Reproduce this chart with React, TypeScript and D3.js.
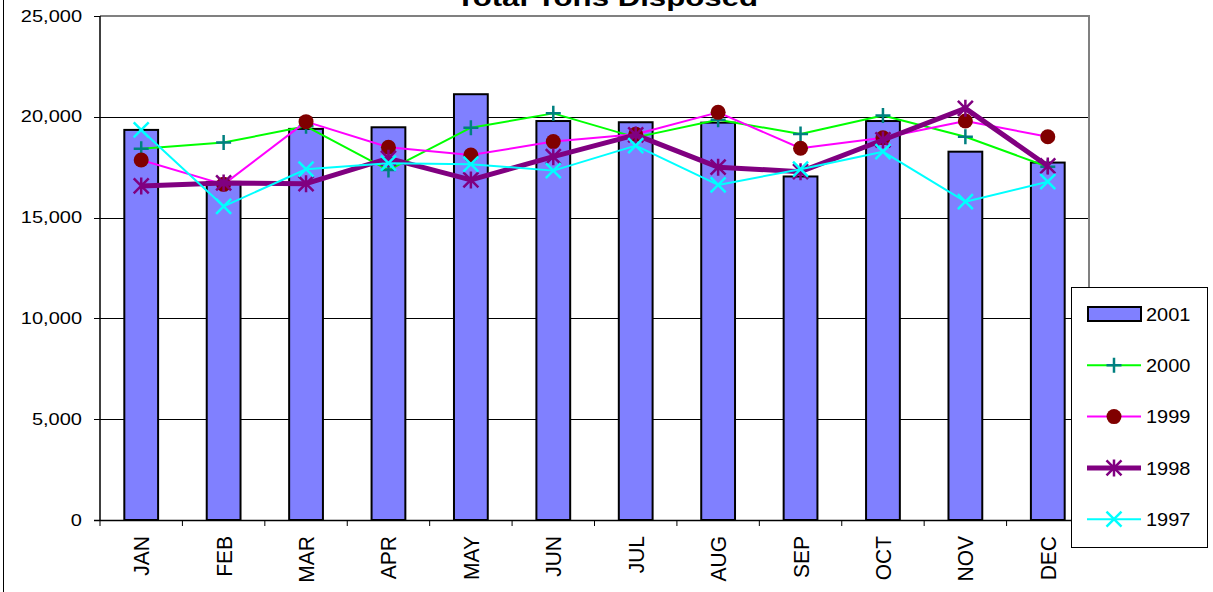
import React from 'react';
import * as d3 from 'd3';

const months = ['JAN', 'FEB', 'MAR', 'APR', 'MAY', 'JUN', 'JUL', 'AUG', 'SEP', 'OCT', 'NOV', 'DEC'];
const yTicks = [0, 5000, 10000, 15000, 20000, 25000];

const tons2001 = [19350, 16770, 19400, 19480, 21120, 19790, 19730, 19710, 17040, 19790, 18270, 17730];
const tons2000 = [18420, 18720, 19530, 17360, 19460, 20170, 18980, 19850, 19150, 20060, 19010, 17520];
const tons1999 = [17860, 16650, 19760, 18490, 18100, 18770, 19130, 20220, 18440, 18960, 19790, 19010];
const tons1998 = [16570, 16720, 16680, 17940, 16870, 18020, 19100, 17500, 17280, 18850, 20420, 17560];
const tons1997 = [19350, 15560, 17400, 17700, 17650, 17330, 18570, 16620, 17400, 18270, 15790, 16780];

type Marker = 'plus' | 'dot' | 'star' | 'x';

interface LineSeries {
  name: string;
  values: number[];
  line: string;
  width: number;
  marker: Marker;
  markerColor: string;
}

const lineSeries: LineSeries[] = [
  { name: '2000', values: tons2000, line: '#00ff00', width: 2, marker: 'plus', markerColor: '#008080' },
  { name: '1999', values: tons1999, line: '#ff00ff', width: 2, marker: 'dot', markerColor: '#800000' },
  { name: '1998', values: tons1998, line: '#800080', width: 5, marker: 'star', markerColor: '#800080' },
  { name: '1997', values: tons1997, line: '#00ffff', width: 2, marker: 'x', markerColor: '#00ffff' },
];

const FONT = "Arial, 'Liberation Sans', sans-serif";

// draws one marker glyph centred on (x, y)
const MarkerGlyph: React.FC<{ kind: Marker; x: number; y: number; color: string }> = ({ kind, x, y, color }) => {
  if (kind === 'dot') return <circle cx={x} cy={y} r={7.5} fill={color} />;
  const s = 7.5;
  if (kind === 'plus') {
    return (
      <path d={`M${x - s},${y}H${x + s}M${x},${y - s}V${y + s}`} stroke={color} strokeWidth={2.5} fill="none" />
    );
  }
  if (kind === 'x') {
    return (
      <path d={`M${x - s},${y - s}L${x + s},${y + s}M${x - s},${y + s}L${x + s},${y - s}`} stroke={color} strokeWidth={2.5} fill="none" />
    );
  }
  return (
    <path
      d={`M${x - s},${y - s}L${x + s},${y + s}M${x - s},${y + s}L${x + s},${y - s}M${x},${y - s - 1}V${y + s + 1}`}
      stroke={color}
      strokeWidth={2.5}
      fill="none"
    />
  );
};

const App: React.FC = () => {
  const width = 1213;
  const height = 592;
  const left = 100;
  const right = 1089;
  const top = 16;
  const bottom = 520;

  const x = d3.scaleBand<string>().domain(months).range([left, right]).paddingInner(0.59).paddingOuter(0.295);
  const y = d3.scaleLinear().domain([0, 25000]).range([bottom, top]);
  const step = (right - left) / months.length;
  const cx = (m: string) => (x(m) || 0) + x.bandwidth() / 2;

  const lineGen = d3.line<number>()
    .x((_, i) => cx(months[i]))
    .y((d) => y(d));

  const legendX = 1071;
  const legendY = 287;
  const legendRows = ['2001', ...lineSeries.map((s) => s.name)];
  const rowY = (i: number) => 314 + i * 51.3;

  return (
    <svg width={width} height={height} style={{ position: 'absolute', left: 0, top: 0, background: '#fff' }} fontFamily={FONT}>
      {/* outer chart frame edge */}
      <line x1={3.5} x2={3.5} y1={0} y2={height} stroke="#000" strokeWidth={1} />

      <text
        transform={`translate(607,6) scale(1.3,1)`}
        textAnchor="middle"
        fontSize={24}
        fontWeight="bold"
        fill="#000"
      >
        Total Tons Disposed
      </text>

      {/* gridlines */}
      {yTicks.filter((t) => t > 0 && t < 25000).map((t) => (
        <line key={t} x1={left} x2={right} y1={Math.round(y(t)) + 0.5} y2={Math.round(y(t)) + 0.5} stroke="#000" strokeWidth={1} />
      ))}

      {/* plot area border (top/right) */}
      <path d={`M${left},${top}H${right}V${bottom}`} stroke="#808080" strokeWidth={2} fill="none" />

      {/* bars */}
      {months.map((m, i) => (
        <rect
          key={m}
          x={x(m)}
          y={y(tons2001[i])}
          width={x.bandwidth()}
          height={bottom - y(tons2001[i])}
          fill="#8080ff"
          stroke="#000"
          strokeWidth={2}
        />
      ))}

      {/* axes */}
      <line x1={left} x2={left} y1={top} y2={bottom} stroke="#000" strokeWidth={1.5} />
      <line x1={left - 6} x2={right} y1={bottom + 0.5} y2={bottom + 0.5} stroke="#000" strokeWidth={1.5} />
      {yTicks.map((t) => (
        <g key={t}>
          <line x1={left - 6} x2={left} y1={Math.round(y(t)) + 0.5} y2={Math.round(y(t)) + 0.5} stroke="#000" strokeWidth={1} />
          <text
            transform={`translate(82,${y(t)}) scale(1.25,1)`}
            textAnchor="end"
            dy="0.35em"
            fontSize={16}
            fill="#000"
          >
            {d3.format(',')(t)}
          </text>
        </g>
      ))}
      {d3.range(months.length + 1).map((i) => (
        <line key={i} x1={left + i * step} x2={left + i * step} y1={bottom} y2={bottom + 6} stroke="#000" strokeWidth={1} />
      ))}
      {months.map((m) => (
        <text
          key={m}
          transform={`translate(${cx(m)},536) scale(1.06,1) rotate(-90)`}
          textAnchor="end"
          dy="0.36em"
          fontSize={21}
          fill="#000"
        >
          {m}
        </text>
      ))}

      {/* line series */}
      {lineSeries.map((s) => (
        <g key={s.name}>
          <path d={lineGen(s.values) || undefined} stroke={s.line} strokeWidth={s.width} fill="none" strokeLinejoin="round" />
          {s.values.map((v, i) => (
            <MarkerGlyph key={i} kind={s.marker} x={cx(months[i])} y={y(v)} color={s.markerColor} />
          ))}
        </g>
      ))}

      {/* legend */}
      <rect x={legendX + 0.5} y={legendY + 0.5} width={136} height={260} fill="#fff" stroke="#000" strokeWidth={1} />
      {legendRows.map((name, i) => {
        const ly = rowY(i);
        const s = lineSeries.find((d) => d.name === name);
        return (
          <g key={name}>
            {s ? (
              <>
                <line x1={1087} x2={1141} y1={ly} y2={ly} stroke={s.line} strokeWidth={s.width} />
                <MarkerGlyph kind={s.marker} x={1114} y={ly} color={s.markerColor} />
              </>
            ) : (
              <rect x={1088} y={ly - 7} width={53} height={14} fill="#8080ff" stroke="#000" strokeWidth={2} />
            )}
            <text transform={`translate(1146,${ly}) scale(1.05,1)`} dy="0.36em" fontSize={19} fill="#000">
              {name}
            </text>
          </g>
        );
      })}
    </svg>
  );
};

export default App;
